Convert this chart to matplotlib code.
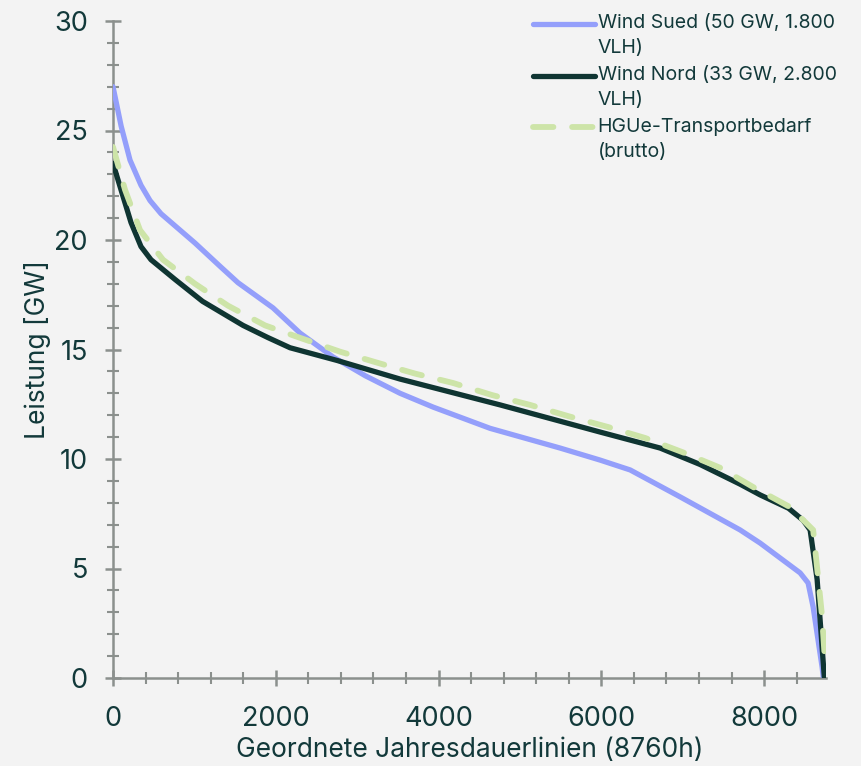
import matplotlib
matplotlib.use("Agg")
import matplotlib.pyplot as plt
from matplotlib.ticker import MultipleLocator
from matplotlib.legend_handler import HandlerLine2D
from matplotlib.lines import Line2D

# Data
sued_h = [0, 100, 209, 344, 455, 590, 1008, 1315, 1536, 1966, 2298, 2703, 3100, 3527, 3933,
          4633, 5493, 5985, 6354, 6968, 7705, 7951, 8442, 8540, 8602, 8712, 8728]
sued_v = [27.0, 25.2, 23.65, 22.5, 21.8, 21.2, 19.86, 18.8, 18.05, 16.9, 15.75, 14.66, 13.8, 13.0, 12.37,
          11.4, 10.5, 9.95, 9.5, 8.27, 6.76, 6.16, 4.8, 4.34, 3.24, 0.5, 0.0]

nord_h = [0, 98, 221, 344, 467, 762, 1100, 1598, 1900, 2175, 2753, 3527, 4756, 5985, 6722, 7213,
          7705, 7951, 8300, 8479, 8565, 8651, 8740]
nord_v = [23.5, 22.3, 20.8, 19.7, 19.1, 18.2, 17.2, 16.1, 15.55, 15.08, 14.5, 13.65, 12.47, 11.23, 10.5, 9.75,
          8.85, 8.36, 7.75, 7.2, 6.76, 4.5, 0.0]

hgue_h = [0, 147, 332, 614, 1008, 1413, 1868, 2323, 2790, 3244, 3711, 4178, 4657, 5124, 5591,
          6083, 6538, 7005, 7459, 7865, 8320, 8602, 8663, 8712, 8750]
hgue_v = [24.25, 22.3, 20.45, 19.1, 18.0, 17.0, 16.1, 15.5, 14.9, 14.4, 13.9, 13.47, 12.92, 12.47, 11.96,
          11.46, 10.96, 10.3, 9.6, 8.72, 7.8, 6.76, 4.6, 2.8, 0.6]

labels = ["Wind Sued (50 GW, 1.800\nVLH)", "Wind Nord (33 GW, 2.800\nVLH)", "HGUe-Transportbedarf\n(brutto)"]
xlabel = "Geordnete Jahresdauerlinien (8760h)"
ylabel = "Leistung [GW]"

bg = "#f3f3f3"
txt = "#12393a"
axc = "#8b908d"

plt.rcParams['font.family'] = ['Inter', 'DejaVu Sans']


class TopAlignedLine(HandlerLine2D):
    def __init__(self, shift, **kw):
        super().__init__(**kw)
        self.shift = shift

    def create_artists(self, legend, orig_handle, xdescent, ydescent, width, height, fontsize, trans):
        arts = super().create_artists(legend, orig_handle, xdescent, ydescent, width, height, fontsize, trans)
        for a in arts:
            a.set_ydata([y + self.shift for y in a.get_ydata()])
        return arts


fig = plt.figure(figsize=(8.61, 7.66), dpi=100, facecolor=bg)
ax = fig.add_axes([113/861, 88/766, (826-113)/861, (678-21)/766])
ax.set_facecolor(bg)

ax.plot(sued_h, sued_v, color="#949ffb", lw=3.8, solid_capstyle='round', solid_joinstyle='round',
        label=labels[0], zorder=3)
ax.plot(nord_h, nord_v, color="#0f3532", lw=3.8, solid_capstyle='round', solid_joinstyle='round',
        label=labels[1], zorder=4)
ax.plot(hgue_h, hgue_v, color="#cde4a8", lw=4.2, dashes=(3.5, 3.2), dash_capstyle='round',
        label=labels[2], zorder=5)

ax.set_xlim(0, 8760)
ax.set_ylim(0, 30)
ax.xaxis.set_major_locator(MultipleLocator(2000))
ax.xaxis.set_minor_locator(MultipleLocator(400))
ax.yaxis.set_major_locator(MultipleLocator(5))
ax.yaxis.set_minor_locator(MultipleLocator(1))

for s in ['top', 'right']:
    ax.spines[s].set_visible(False)
for s in ['left', 'bottom']:
    ax.spines[s].set_color(axc)
    ax.spines[s].set_linewidth(1.8)

ax.tick_params(which='major', direction='inout', length=12, width=1.8, color=axc,
               labelsize=19.5, labelcolor=txt)
ax.tick_params(axis='x', which='major', pad=14)
ax.tick_params(axis='y', which='major', pad=12)
ax.tick_params(which='minor', direction='inout', length=9, width=1.5, color=axc)

ax.set_xlabel(xlabel, fontsize=19, color=txt, labelpad=4)
ax.set_ylabel(ylabel, fontsize=19, color=txt, labelpad=2.5)

leg = ax.legend(loc='upper left', bbox_to_anchor=(533/861, 1 - 14/766), bbox_transform=fig.transFigure,
                frameon=False, fontsize=14, handlelength=3.2, handletextpad=0.12,
                labelspacing=0.45, borderaxespad=0, borderpad=0,
                handler_map={Line2D: TopAlignedLine(8.6)})
for t in leg.get_texts():
    t.set_color(txt)
    t.set_linespacing(1.5)

fig.savefig("out.png", dpi=100, facecolor=bg)
